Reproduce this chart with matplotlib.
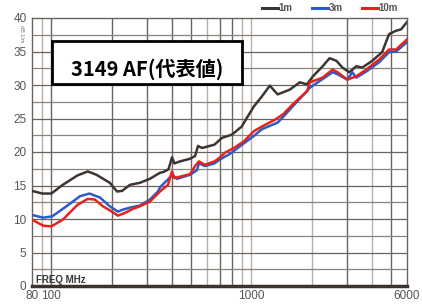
import matplotlib
matplotlib.use("Agg")
import matplotlib.pyplot as plt
from matplotlib.patches import Rectangle
from matplotlib.lines import Line2D

# ---- data ----
f_1m = [80, 90, 100, 114, 135, 152, 168, 196, 213, 226, 247, 277, 311, 349, 362, 385,
        401, 412, 440, 494, 523, 541, 567, 654, 712, 800, 895, 950, 1029, 1129, 1236,
        1354, 1554, 1747, 1895, 2032, 2272, 2460, 2666, 2853, 3090, 3349, 3582, 4017,
        4506, 4882, 5292, 5602, 6000]
v_1m = [14.2, 13.8, 13.8, 15.1, 16.5, 17.1, 16.6, 15.4, 14.1, 14.2, 15.1, 15.4, 16.0, 16.9, 17.0, 17.4,
        19.2, 18.3, 18.6, 19.0, 19.4, 20.9, 20.6, 21.1, 22.1, 22.6, 23.8, 25.1, 26.8, 28.3, 29.9,
        28.6, 29.3, 30.4, 30.1, 31.3, 32.8, 34.0, 33.6, 32.6, 31.9, 32.8, 32.6, 33.6,
        34.9, 37.6, 38.1, 38.3, 39.4]

f_3m = [80, 91, 101, 119, 139, 155, 175, 196, 215, 228, 247, 277, 311, 341, 349, 362, 383,
        401, 425, 494, 535, 547, 586, 654, 697, 780, 918, 1029, 1129, 1354, 1437, 1609,
        1962, 2547, 2698, 3019, 3198, 3349, 3749, 4353, 4882, 5292, 6000]
v_3m = [10.6, 10.2, 10.4, 11.9, 13.4, 13.8, 13.2, 11.9, 11.1, 11.4, 11.7, 12.0, 12.9, 14.1, 14.7, 15.2, 15.9,
        16.6, 16.0, 16.6, 17.3, 18.3, 17.9, 18.3, 18.9, 19.7, 21.3, 22.4, 23.4, 24.4, 25.2, 26.8,
        29.6, 31.9, 31.6, 30.8, 31.9, 31.1, 32.0, 33.4, 34.9, 35.0, 36.4]

f_10m = [80, 91, 100, 114, 135, 152, 165, 181, 201, 215, 233, 255, 277, 311, 349, 383,
         401, 412, 494, 523, 547, 586, 654, 697, 738, 828, 918, 1029, 1129, 1309, 1437,
         1609, 1705, 1747, 1895, 1962, 2272, 2547, 2698, 3019, 3349, 3749, 4353, 4882,
         5292, 6000]
v_10m = [9.9, 9.0, 8.9, 9.9, 12.1, 13.0, 12.9, 11.9, 11.1, 10.5, 10.9, 11.5, 11.9, 12.6, 14.1, 15.1,
         17.1, 16.1, 16.7, 17.9, 18.6, 18.1, 18.6, 19.2, 19.9, 20.7, 21.6, 23.1, 23.8, 24.8, 25.6,
         27.1, 27.8, 28.1, 29.0, 30.4, 31.1, 32.3, 31.9, 30.8, 31.3, 32.3, 33.8, 35.3,
         35.3, 36.8]

series_labels = ["1m", "3m", "10m"]
y_ticks = [0, 5, 10, 15, 20, 25, 30, 35, 40]
x_tick_vals = [80, 100, 1000, 6000]
x_tick_labels = ["80", "100", "1000", "6000"]
title_text = "3149 AF(代表値)"

# ---- figure ----
fig = plt.figure(figsize=(4.22, 3.04), dpi=100)
ax = fig.add_axes([32/422, 1-286/304, 375/422, 268/304])
ax.set_xscale("log")
ax.set_xlim(80, 6000)
ax.set_ylim(0, 40)

# grid
dark = "#6a625d"
light = "#b5b0ac"
vlines = {90: light, 100: dark, 200: dark, 300: dark, 400: dark, 500: dark, 600: light,
          700: dark, 800: dark, 900: light, 1000: light, 2000: light, 3000: dark,
          4000: light, 5000: dark}
for xv, c in vlines.items():
    ax.axvline(xv, color=c, lw=1.0, zorder=1)
for yv in [2.5*i for i in range(1, 16)]:
    ax.axhline(yv, color=dark if yv % 5 == 0 else "#8a837e", lw=0.9, zorder=1)

for sp in ["left", "top", "right"]:
    ax.spines[sp].set_color("#6a625d")
    ax.spines[sp].set_linewidth(1.0)
ax.spines["bottom"].set_color("#3a3330")
ax.spines["bottom"].set_linewidth(2.5)

ax.set_yticks(y_ticks)
ax.set_yticklabels([str(t) for t in y_ticks])
ax.set_xticks(x_tick_vals)
ax.set_xticklabels(x_tick_labels)
ax.xaxis.set_minor_locator(matplotlib.ticker.NullLocator())
ax.tick_params(axis="both", length=0, labelsize=8.5, labelcolor="#555555",
               labelfontfamily="Liberation Sans")
ax.tick_params(axis="y", pad=4)
ax.tick_params(axis="x", pad=3)

# curves
c1, c3, c10 = "#3d3532", "#2b5cc8", "#e3231c"
ax.plot(f_1m, v_1m, color=c1, lw=1.8, zorder=3)
ax.plot(f_3m, v_3m, color=c3, lw=1.8, zorder=3)
ax.plot(f_10m, v_10m, color=c10, lw=1.8, zorder=4)

# title box
ax.add_patch(Rectangle((20/375, 30.2), 190/375, 6.3, transform=ax.get_yaxis_transform(),
                       facecolor="white", edgecolor="black", lw=2.0, zorder=5))
ax.text(115/375, 32.4, title_text, transform=ax.get_yaxis_transform(), ha="center", va="center",
        fontsize=14.5, fontweight="bold", family=["Noto Sans CJK JP", "DejaVu Sans"],
        color="black", zorder=6)

# FREQ MHz label
ax.text(4/375, 0.9, "FREQ MHz", transform=ax.get_yaxis_transform(), ha="left", va="center",
        fontsize=7, fontweight="bold", family="Liberation Sans", color="#3a3a3a", zorder=6)

# dB label
fig.text(22/422, 1-34/304, "dB 1/m", rotation=270, ha="center", va="center",
         fontsize=4, color="#777777", family="Liberation Sans")

# legend
handles = [Line2D([], [], color=c, lw=2.2) for c in (c1, c3, c10)]
leg = fig.legend(handles, series_labels, loc="center", bbox_to_anchor=(330/422, 1-8/304),
                 ncol=3, frameon=False, handlelength=1.6, handletextpad=0.1,
                 columnspacing=2.0, prop={"family": "Liberation Sans", "weight": "bold", "size": 7})
for t in leg.get_texts():
    t.set_color("#555555")

fig.savefig("out.png", dpi=100)
